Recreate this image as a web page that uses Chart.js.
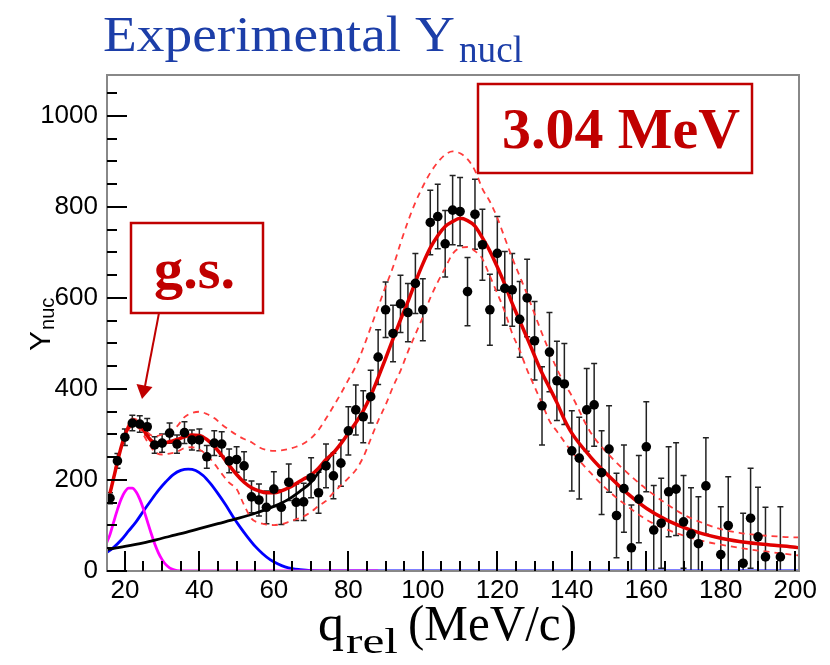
<!DOCTYPE html>
<html>
<head>
<meta charset="utf-8">
<script src="https://cdn.jsdelivr.net/npm/chart.js@4.4.1/dist/chart.umd.min.js"></script>
<style>
  html, body { margin: 0; padding: 0; background: #fff; }
  canvas { display: block; }
</style>
</head>
<body>
<canvas id="ynucChart" width="830" height="665"></canvas>
<script>
// measured points: q_rel (MeV/c), Y_nuc and its error
const qPoints = [16, 18, 20, 22, 24, 26, 28, 30, 32, 34, 36, 38, 40, 42, 44, 46, 48, 50, 52, 54,
  56, 58, 60, 62, 64, 66, 68, 70, 72, 74, 76, 78, 80, 82, 84, 86, 88, 90, 92, 94,
  96, 98, 100, 102, 104, 106, 108, 110, 112, 114, 116, 118, 120, 122, 124, 126, 128, 130, 132, 134,
  136, 138, 140, 142, 144, 146, 148, 150, 152, 154, 156, 158, 160, 162, 164, 166, 168, 170, 172, 174,
  176, 180, 182, 186, 188, 190, 192, 196];
const yPoints = [160, 242, 294, 325, 323, 317, 277, 281, 303, 279, 304, 288, 288, 251, 281, 279, 242, 245, 231, 163,
  156, 140, 180, 140, 195, 151, 152, 205, 172, 231, 209, 237, 308, 354, 339, 383, 470, 574, 522, 587,
  568, 632, 574, 766, 779, 719, 793, 790, 614, 784, 717, 574, 698, 621, 618, 553, 600, 506, 363, 481,
  418, 411, 264, 248, 354, 365, 216, 268, 122, 181, 51, 158, 273, 90, 105, 174, 180, 108, 81, 60,
  187, 36, 100, 17, 116, 75, 31, 31];
const yErrors = [12, 16, 18, 17, 18, 18, 18, 20, 22, 20, 24, 22, 24, 25, 27, 27, 26, 28, 31, 35,
  35, 36, 38, 38, 40, 40, 41, 44, 45, 48, 50, 51, 53, 55, 57, 58, 60, 61, 62, 63,
  64, 66, 68, 71, 71, 73, 76, 75, 75, 77, 78, 78, 81, 81, 80, 83, 85, 86, 86, 87,
  87, 89, 88, 90, 91, 91, 92, 95, 93, 96, 94, 96, 99, 98, 99, 99, 102, 102, 102, 103,
  106, 105, 107, 110, 110, 109, 109, 110];

// total fit (red)
const qFit = [16, 17, 18, 19, 20, 21, 22, 23, 24, 25, 26, 27, 28, 29, 30, 32, 34, 36, 38, 40,
  42, 44, 46, 48, 50, 52, 54, 56, 58, 60, 62, 64, 66, 68, 70, 72, 74, 76, 78, 80,
  82, 84, 86, 88, 90, 92, 94, 96, 98, 100, 102, 104, 106, 108, 110, 112, 114, 116, 118, 120,
  122, 124, 126, 128, 130, 132, 134, 136, 138, 140, 145, 150, 155, 160, 165, 170, 175, 180, 185, 190,
  195, 200, 201];
const yFit = [171, 205, 240, 272, 298, 316, 326, 328, 322, 310, 297, 287, 282, 280, 281, 284, 289, 295, 299, 298,
  289, 274, 254, 232, 212, 195, 183, 176, 172, 172, 176, 183, 192, 202, 211, 226, 245, 260, 280, 303,
  326, 352, 385, 425, 467, 510, 552, 592, 635, 675, 710, 737, 757, 768, 775, 770, 758, 732, 703, 668,
  630, 588, 550, 512, 473, 435, 403, 370, 333, 303, 251, 208, 170, 138, 114, 96, 82, 72, 65, 60,
  56, 52, 51];

// fit bands (dashed)
const qBand = [16, 18, 20, 22, 24, 26, 28, 30, 32, 34, 36, 38, 40, 42, 44, 46, 48, 50, 52, 54,
  56, 58, 60, 62, 64, 66, 68, 70, 72, 74, 76, 78, 80, 82, 84, 86, 88, 90, 92, 94,
  96, 98, 100, 102, 104, 106, 108, 110, 112, 114, 116, 118, 120, 122, 124, 126, 128, 130, 132, 134,
  136, 138, 140, 145, 150, 155, 160, 165, 170, 175, 180, 185, 190, 195, 200, 201];
const yBandUp = [172, 242, 300, 335, 328, 305, 296, 300, 308, 318, 338, 347, 350, 345, 336, 322, 310, 299, 290, 283,
  272, 266, 264, 265, 268, 273, 280, 292, 310, 335, 362, 390, 420, 450, 490, 535, 580, 625, 668, 720,
  768, 810, 845, 875, 898, 915, 922, 918, 905, 880, 840, 812, 776, 732, 688, 648, 608, 565, 522, 482,
  444, 412, 385, 305, 255, 215, 180, 150, 124, 106, 92, 84, 79, 76, 74, 74];
const yBandLow = [170, 236, 294, 318, 312, 285, 262, 256, 258, 262, 270, 272, 267, 255, 236, 214, 194, 180, 145, 115,
  106, 102, 101, 103, 108, 114, 120, 130, 143, 154, 172, 188, 204, 222, 250, 290, 330, 365, 405, 440,
  482, 520, 558, 600, 635, 666, 697, 710, 712, 703, 686, 648, 610, 570, 522, 485, 442, 405, 368, 330,
  307, 284, 262, 216, 175, 142, 113, 93, 78, 66, 58, 51, 45, 40, 35, 34];

// components
const qBkg = [15, 20, 25, 30, 35, 40, 45, 50, 55, 60, 64, 67, 70, 73, 76];
const yBkg = [47, 54, 62, 72, 82, 93, 104, 115, 127, 142, 158, 175, 195, 228, 262];
const qGs = [15, 16, 17, 18, 19, 20, 21, 22, 23, 24, 25, 26, 27, 28, 29, 30, 31, 32, 33, 34, 36, 40, 88];
const yGs = [60, 80, 108, 135, 158, 174, 182, 182, 174, 158, 136, 110, 84, 60, 40, 25, 14, 7, 3, 1, 0, 0, 0];
const qExc = [15, 17, 19, 21, 23, 25, 27, 29, 31, 33, 35, 37, 39, 41, 43, 45, 47, 49, 51, 53,
  55, 57, 59, 61, 63, 65, 67, 70, 75, 80, 201];
const yExc = [40, 52, 68, 88, 108, 132, 155, 177, 196, 212, 221, 224, 221, 210, 192, 170, 146, 120, 96, 74,
  54, 38, 25, 16, 9, 5, 3, 1, 0, 0, 0];

const xTickValues = [20, 40, 60, 80, 100, 120, 140, 160, 180, 200];
const yTickValues = [0, 200, 400, 600, 800, 1000];
// inner tick marks (ROOT style)
const xMinorTicks = [20, 25, 30, 35, 40, 45, 50, 55, 60, 65, 70, 75, 80, 85, 90, 95, 100, 105, 110,
  115, 120, 125, 130, 135, 140, 145, 150, 155, 160, 165, 170, 175, 180, 185, 190, 195, 200];
const yMinorTicks = [0, 50, 100, 150, 200, 250, 300, 350, 400, 450, 500, 550, 600, 650, 700, 750,
  800, 850, 900, 950, 1000, 1050];

const pairs = (xs, ys) => xs.map((x, i) => ({ x: x, y: ys[i] }));

const RED = '#c00000';

function fitText(ctx, txt, x, y, font, color, w) {
  ctx.save();
  ctx.font = font;
  ctx.fillStyle = color;
  ctx.textAlign = 'left';
  ctx.textBaseline = 'alphabetic';
  const m = ctx.measureText(txt).width;
  ctx.translate(x, y);
  if (w) ctx.scale(w / m, 1);
  ctx.fillText(txt, 0, 0);
  ctx.restore();
}

// error bars under everything
const errorBars = {
  id: 'errorBars',
  beforeDatasetsDraw(chart) {
    const { ctx, chartArea: a, scales: { x, y } } = chart;
    ctx.save();
    ctx.beginPath();
    ctx.rect(a.left, a.top, a.right - a.left, a.bottom - a.top);
    ctx.clip();
    ctx.strokeStyle = '#222';
    ctx.lineWidth = 1.5;
    qPoints.forEach((q, i) => {
      const px = x.getPixelForValue(q);
      const top = y.getPixelForValue(yPoints[i] + yErrors[i]);
      const bot = y.getPixelForValue(yPoints[i] - yErrors[i]);
      ctx.beginPath();
      ctx.moveTo(px, top); ctx.lineTo(px, bot);
      ctx.moveTo(px - 3, top); ctx.lineTo(px + 3, top);
      ctx.moveTo(px - 3, bot); ctx.lineTo(px + 3, bot);
      ctx.stroke();
    });
    ctx.restore();
  }
};

// ROOT style frame, inner ticks, titles and the two labels
const decorations = {
  id: 'decorations',
  afterDraw(chart) {
    const ctx = chart.ctx;
    const a = chart.chartArea;
    const xs = chart.scales.x;
    const ys = chart.scales.y;

    ctx.save();
    ctx.setLineDash([]);
    ctx.strokeStyle = '#888';
    ctx.lineWidth = 2;
    ctx.strokeRect(a.left, a.top, a.right - a.left, a.bottom - a.top);

    ctx.fillStyle = '#000';
    xMinorTicks.forEach((q) => {
      const px = Math.round(xs.getPixelForValue(q));
      const len = q % 20 === 0 ? 20 : 10;
      ctx.fillRect(px - 1, a.bottom - len, 2, len);
    });
    yMinorTicks.forEach((v) => {
      const py = Math.round(ys.getPixelForValue(v));
      const len = v % 200 === 0 ? 20 : 10;
      ctx.fillRect(a.left, py - 1, len, 2);
    });
    ctx.restore();

    // title
    fitText(ctx, 'Experimental Y', 103, 51, '51px "Liberation Serif"', '#1c3ea8', 352);
    fitText(ctx, 'nucl', 459, 62, '38px "Liberation Serif"', '#1c3ea8', 64);

    // x title
    fitText(ctx, 'q', 318, 640, '50px "Liberation Serif"', '#000', 26);
    fitText(ctx, 'rel', 346, 653, '36px "Liberation Serif"', '#000', 52);
    fitText(ctx, '(MeV/c)', 408, 640, '50px "Liberation Serif"', '#000', 169);

    // y title, rotated
    ctx.save();
    ctx.translate(50, 351);
    ctx.rotate(-Math.PI / 2);
    ctx.fillStyle = '#000';
    ctx.font = '30px "Liberation Sans"';
    ctx.fillText('Y', 0, 0);
    const wy = ctx.measureText('Y').width;
    ctx.font = '20px "Liberation Sans"';
    ctx.fillText('nuc', wy + 1, 4);
    ctx.restore();

    // label boxes
    ctx.save();
    ctx.fillStyle = '#fff';
    ctx.strokeStyle = RED;
    ctx.lineWidth = 2.5;
    ctx.fillRect(478, 84, 274, 89);
    ctx.strokeRect(478, 84, 274, 89);
    ctx.fillRect(131, 223, 132, 90);
    ctx.strokeRect(131, 223, 132, 90);
    ctx.restore();
    fitText(ctx, '3.04 MeV', 502, 148, 'bold 58px "Liberation Serif"', RED, 238);
    fitText(ctx, 'g.s.', 154, 288, 'bold 58px "Liberation Serif"', RED, 81);

    // arrow to the g.s. peak
    ctx.save();
    ctx.strokeStyle = RED;
    ctx.fillStyle = RED;
    ctx.lineWidth = 2;
    ctx.beginPath();
    ctx.moveTo(159, 313); ctx.lineTo(145, 386);
    ctx.stroke();
    ctx.beginPath();
    ctx.moveTo(142, 399); ctx.lineTo(136.5, 384); ctx.lineTo(152.5, 387);
    ctx.closePath();
    ctx.fill();
    ctx.restore();
  }
};

const curve = (label, xs, ys, color, width, dash) => ({
  label: label,
  data: pairs(xs, ys),
  borderColor: color,
  borderWidth: width,
  borderDash: dash || [],
  pointRadius: 0,
  fill: false,
  cubicInterpolationMode: 'monotone'
});

new Chart(document.getElementById('ynucChart').getContext('2d'), {
  type: 'line',
  data: {
    datasets: [
      {
        label: 'data',
        data: pairs(qPoints, yPoints),
        showLine: false,
        pointRadius: 4.8,
        pointBackgroundColor: '#000',
        pointBorderWidth: 0
      },
      curve('fit', qFit, yFit, '#e00000', 3.5),
      curve('band up', qBand, yBandUp, '#ff3b3b', 1.8, [6, 5]),
      curve('band low', qBand, yBandLow, '#ff3b3b', 1.8, [6, 5]),
      curve('background', qBkg, yBkg, '#000', 2.8),
      curve('g.s.', qGs, yGs, '#ff00ff', 2.8),
      curve('excited', qExc, yExc, '#0000ff', 2.8)
    ]
  },
  options: {
    responsive: false,
    animation: false,
    layout: { padding: { left: 0, top: 75, right: 31, bottom: 54 } },
    plugins: { legend: { display: false }, tooltip: { enabled: false } },
    scales: {
      x: {
        type: 'linear',
        min: 15.2,
        max: 201,
        afterFit: (s) => { s.height = 40; },
        grid: { display: false, drawTicks: false },
        border: { display: false },
        afterBuildTicks: (s) => { s.ticks = xTickValues.map(v => ({ value: v })); },
        ticks: {
          color: '#000',
          padding: 4,
          maxRotation: 0,
          autoSkip: false,
          callback: (v) => String(v),
          font: { family: 'Liberation Sans', size: 26 }
        }
      },
      y: {
        type: 'linear',
        min: 0,
        max: 1090,
        afterFit: (s) => { s.width = 107; },
        grid: { display: false, drawTicks: false },
        border: { display: false },
        afterBuildTicks: (s) => { s.ticks = yTickValues.map(v => ({ value: v })); },
        ticks: {
          color: '#000',
          padding: 9,
          autoSkip: false,
          callback: (v) => String(v),
          font: { family: 'Liberation Sans', size: 26 }
        }
      }
    }
  },
  plugins: [errorBars, decorations]
});
</script>
</body>
</html>
